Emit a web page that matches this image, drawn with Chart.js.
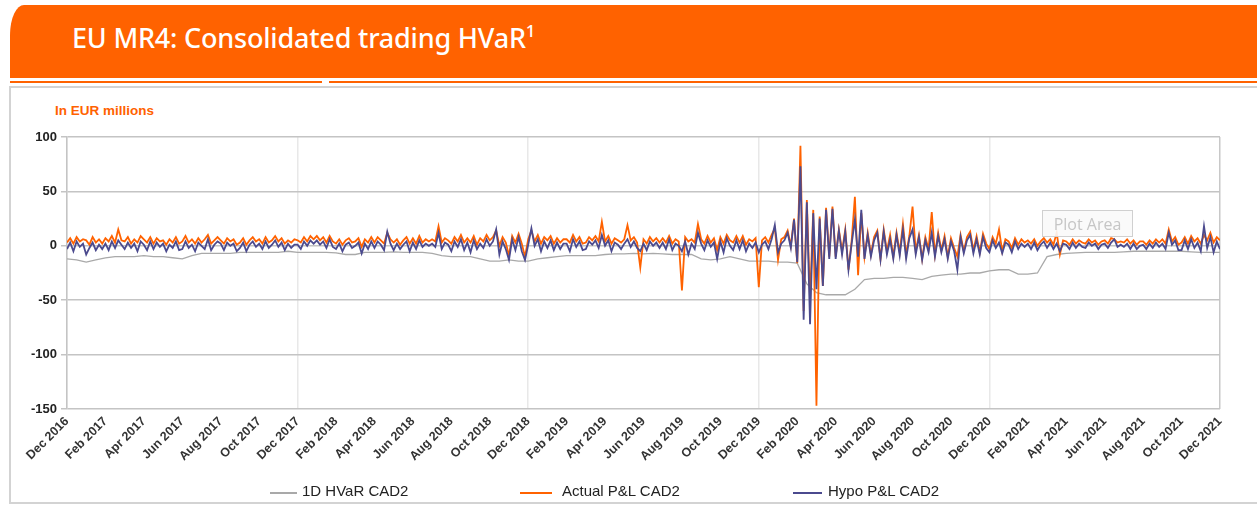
<!DOCTYPE html>
<html>
<head>
<meta charset="utf-8">
<script src="https://cdn.jsdelivr.net/npm/chart.js@4.4.1/dist/chart.umd.min.js"></script>
<style>
  body { margin:0; background:#fff; width:1257px; height:509px; overflow:hidden; position:relative; font-family:"Liberation Sans", Arial, sans-serif; }
  .titlebar { position:absolute; left:10px; top:5px; width:1260px; height:73px; background:#ff6200; border-top-left-radius:14px 30px; }
  .titlebar h1 { margin:0; position:absolute; left:62px; top:14px; color:#fff; font-family:"Noto Sans", sans-serif; font-weight:500; font-size:27px; letter-spacing:-0.2px; }
  .titlebar sup { font-size:17px; position:relative; top:-1px; }
  .rule { position:absolute; top:81px; height:2px; background:#ff6200; }
  .box { position:absolute; left:9px; top:86px; width:1260px; height:418px; border:2px solid #d3d3d3; box-sizing:border-box; }
  .unit { position:absolute; left:55px; top:103px; color:#ff6200; font-weight:bold; font-size:13.5px; }
  #chart { position:absolute; left:12px; top:90px; }
  .legend { position:absolute; top:482px; font-size:15px; color:#222; }
  .legend i { position:absolute; top:10px; height:2px; }
  .plotarea { position:absolute; left:1042px; top:210px; width:91px; height:27px; border:1.5px solid #d0d0d0; background:rgba(249,249,249,0.9); color:#c6c6c6; font-family:"Open Sans", sans-serif; font-size:16px; line-height:27px; text-align:center; box-sizing:border-box; }
</style>
</head>
<body>
<div class="titlebar"><h1>EU MR4: Consolidated trading HVaR<sup>1</sup></h1></div>
<div class="rule" style="left:10px;width:312px"></div>
<div class="rule" style="left:329px;width:940px"></div>
<div class="box"></div>
<div class="unit">In EUR millions</div>
<canvas id="chart" width="1245" height="395"></canvas>
<div class="legend" style="left:270px"><i style="left:0;width:27px;background:#a9a9a9"></i><span style="margin-left:32px">1D HVaR CAD2</span></div>
<div class="legend" style="left:520px"><i style="left:0;width:32px;background:#ff6200"></i><span style="margin-left:42px">Actual P&amp;L CAD2</span></div>
<div class="legend" style="left:793px"><i style="left:0;width:29px;background:#4b4a8e"></i><span style="margin-left:35px">Hypo P&amp;L CAD2</span></div>
<div class="plotarea">Plot Area</div>

<script>
// x axis labels, one every two months (Dec 2016 .. Dec 2021)
var tickLabels = ["Dec 2016","Feb 2017","Apr 2017","Jun 2017","Aug 2017","Oct 2017",
  "Dec 2017","Feb 2018","Apr 2018","Jun 2018","Aug 2018","Oct 2018",
  "Dec 2018","Feb 2019","Apr 2019","Jun 2019","Aug 2019","Oct 2019",
  "Dec 2019","Feb 2020","Apr 2020","Jun 2020","Aug 2020","Oct 2020",
  "Dec 2020","Feb 2021","Apr 2021","Jun 2021","Aug 2021","Oct 2021","Dec 2021"];

// 1D HVaR, two readings per month
var hvar = [-12,-13,-15,-13,-11,-10,-10,-10,-9,-10,-10,-11,-12,-9,-7,-7,-7,-7,-6,-6,-6,-6,-6,-5,-6,
  -6,-6,-6,-6.5,-8,-8,-6,-6,-6,-5.5,-6,-6,-6,-7,-9,-10,-10,-10,-12,-14,-14,-13,-14,-14,
  -12,-11,-10,-9,-9,-9,-9,-8,-7.5,-7.5,-7,-7.5,-7,-7.5,-8,-8,-8,-12,-13,-12,-10,-12,-14,-14,
  -14,-15,-15,-16,-35,-43,-45,-45,-45,-40,-31,-30,-30,-29,-29,-30,-31,-28,-27,-26,-26,-25,-25,-23,
  -22,-22,-26,-26,-25,-10,-8,-7,-6.5,-6,-6,-6,-6,-5.5,-5,-5,-5,-5,-5,-5,-5.5,-6,-6,-6];

// Actual P&L, six readings per month
var actual = [
  3,7,2,8,4,6, 5,1,8,3,6,2, 7,4,9,3,15,5, 4,8,2,6,3,9, 6,3,8,2,7,4, 5,1,6,3,8,2,
  4,9,3,6,2,7, 3,6,10,2,5,8, 5,2,7,4,6,1, 3,7,1,5,8,4, 6,2,8,3,5,9, 4,7,2,5,3,6,
  5,3,8,4,9,6, 9,5,8,3,9,4, 2,6,1,5,7,3, 4,7,-1,6,3,8, 3,8,5,2,12,6, 3,6,1,5,8,2,
  7,2,9,3,6,4, 6,4,18,3,7,5, 2,8,4,10,3,7, 3,9,1,7,4,10, 5,8,14,0,8,3, -9,9,3,11,2,-10,
  6,14,4,10,2,8, 5,9,2,7,3,6, 6,3,10,4,8,2, 3,8,5,9,4,22, 4,9,2,7,5,3, 6,19,5,8,3,-20,
  6,2,8,4,7,3, 7,3,9,2,6,4, -41,8,4,6,3,20, 6,2,9,3,7,-4, 8,2,10,5,3,9, 3,9,1,6,4,7,
  -38,5,8,3,10,16, -13,6,8,14,0,25, -16,92,-60,42,-50,33, -147,27,-37,35,-10,36, -10,15,-5,15,-22,5, 45,-27,30,-10,12,-8,
  8,14,-12,15,-5,10, -10,12,-6,20,-8,9, 36,-5,10,-12,8,-3, 31,-8,12,-4,9,-10, 7,-2,-10,10,-5,8, 13,-4,9,-6,11,2,
  -3,8,2,15,-5,6, 4,-2,7,1,6,3, 5,2,6,0,4,7, 3,6,1,12,-8,5, 4,1,6,2,5,3, 2,6,3,5,1,4,
  5,2,7,6,3,4, 3,6,2,5,1,4, 4,1,5,2,6,3, 6,2,15,4,8,1, 3,8,2,9,4,7, 2,10,5,12,3,8,
  5];

// Hypo P&L, six readings per month
var hypo = [
  -3,3,-5,4,-1,2, -8,-2,3,-4,1,-3, 2,-4,4,-2,5,1, -3,3,-2,2,-5,4, 1,-4,4,-3,3,-1, 2,-5,1,-2,4,-4,
  -3,4,-2,1,-5,3, 0,-3,6,-4,1,4, 2,-4,3,0,2,-5, -2,3,-5,1,4,-1, 2,-3,4,-2,1,5, -1,3,-4,2,-2,1,
  1,-3,4,0,5,2, 5,1,4,-2,6,-1, -3,2,-5,1,3,-2, 0,3,-7,2,-3,4, -2,4,1,-4,13,2, -4,2,-3,1,4,-5,
  3,-3,5,-1,2,0, 2,-1,12,-3,3,1, -5,4,-1,6,-4,3, -6,5,-3,2,-2,6, 0,4,15,-8,4,-3, -13,6,-4,8,-5,-13,
  1,16,0,6,-5,4, -2,5,-4,3,-3,2, 2,-5,6,-1,4,-4, -3,4,1,5,-2,10, 0,5,-5,3,1,-3, 2,6,-1,4,-2,-5,
  2,-4,4,0,3,-2, 3,-3,6,-4,2,0, -5,4,-8,2,-3,12, 2,-4,5,-1,3,-12, 4,-6,7,0,-4,5, -3,5,-5,2,-2,3,
  -6,1,4,-3,6,19, -6,2,5,12,-2,24, -15,73,-68,40,-72,30, -40,25,-37,33,-12,34, -12,14,-8,13,-22,2, 24,-10,33,-12,10,-10,
  5,12,-13,13,-8,6, -12,10,-9,15,-12,7, 15,-8,8,-13,5,-6, 12,-10,9,-6,6,-12, 4,-5,-22,8,-7,5, 10,-7,6,-8,8,-2,
  -6,5,-2,3,-7,3, 1,-6,4,-3,2,-1, 2,-3,3,-4,1,4, -2,3,-3,2,-5,2, 1,-3,3,-2,2,-1, -2,3,0,2,-3,1,
  2,-2,3,6,-1,1, -1,2,-3,2,-3,0, 1,-3,2,-2,3,-1, 2,-3,12,1,5,-4, -4,5,-3,6,-2,3, -5,18,-2,8,-6,4,
  -3];

// x = months since Dec 2016
function toPoints(arr, perMonth){
  return arr.map(function(v, i){ return {x: i / perMonth, y: v}; });
}

var ctx = document.getElementById("chart").getContext("2d");
new Chart(ctx, {
  type: "line",
  data: {
    datasets: [
      { label: "Hypo P&L CAD2", data: toPoints(hypo, 6), borderColor: "#4b4a8e", borderWidth: 1.8, order: 0 },
      { label: "Actual P&L CAD2", data: toPoints(actual, 6), borderColor: "#ff6200", borderWidth: 1.8, order: 1 },
      { label: "1D HVaR CAD2", data: toPoints(hvar, 2), borderColor: "#a9a9a9", borderWidth: 1.3, order: 2 }
    ]
  },
  options: {
    responsive: false,
    animation: false,
    devicePixelRatio: 1,
    elements: { point: { radius: 0 }, line: { tension: 0 } },
    layout: { padding: { top: 47, right: 37, left: 0, bottom: 0 } },
    plugins: { legend: { display: false }, tooltip: { enabled: false } },
    scales: {
      x: {
        type: "linear", min: 0, max: 60,
        afterFit: function(scale){ scale.height = 76; },
        border: { display: false },
        grid: {
          drawTicks: false,
          color: function(c){
            var v = c.tick.value;
            if (v === 60) return "#c8c8c8";
            return v % 12 === 0 ? "#e8e8e8" : "rgba(0,0,0,0)";
          },
          lineWidth: 1.5
        },
        ticks: {
          stepSize: 2, autoSkip: false, maxRotation: 45, minRotation: 45, padding: 5,
          color: "#333", font: { family: "Liberation Sans", size: 12.5, weight: "bold" },
          callback: function(v){ return tickLabels[v / 2]; }
        }
      },
      y: {
        min: -150, max: 100,
        afterFit: function(scale){ scale.width = 55; },
        border: { display: true, color: "#c4c4c4", width: 1.5 },
        grid: { color: "#c4c4c4", lineWidth: 1.5, tickLength: 6, tickColor: "#c4c4c4" },
        ticks: {
          stepSize: 50, padding: 4, color: "#222",
          font: { family: "Liberation Sans", size: 13, weight: "bold" }
        }
      }
    }
  }
});
</script>
</body>
</html>
